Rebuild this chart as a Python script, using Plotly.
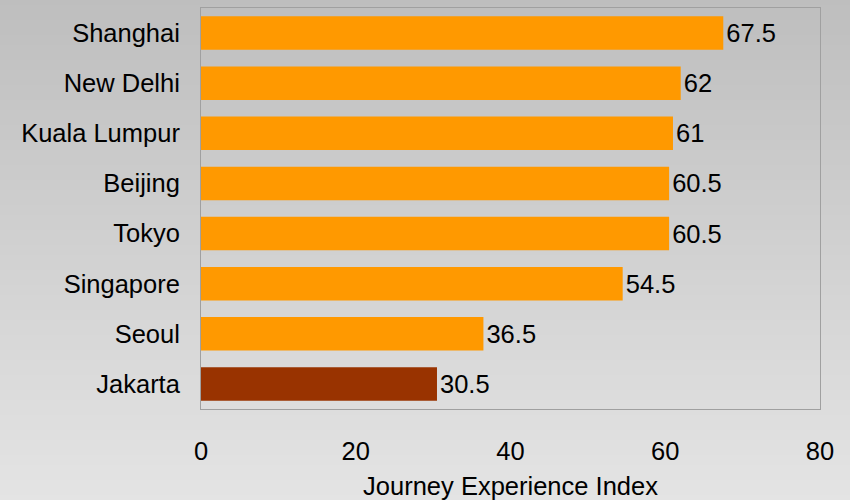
import plotly.graph_objects as go

# Journey Experience Index by city (bottom to top in the chart)
cities = ["Jakarta", "Seoul", "Singapore", "Tokyo", "Beijing",
          "Kuala Lumpur", "New Delhi", "Shanghai"]
scores = [30.5, 36.5, 54.5, 60.5, 60.5, 61, 62, 67.5]
bar_colors = ["#993300", "#FF9900", "#FF9900", "#FF9900", "#FF9900",
              "#FF9900", "#FF9900", "#FF9900"]
x_ticks = [0, 20, 40, 60, 80]

W, H = 850, 500
ML, MR, MT, MB = 201, 30, 8, 91
FONT = "Liberation Sans, Arial, sans-serif"
FS = 25.5

fig = go.Figure(go.Bar(
    x=scores,
    y=cities,
    orientation="h",
    marker=dict(color=bar_colors, line=dict(width=0)),
    text=[f"{v:g}" for v in scores],
    textposition="outside",
    cliponaxis=False,
    textfont=dict(size=FS, color="#000000", family=FONT),
    width=0.67,
))

# vertical grey gradient behind the whole figure, drawn as thin strips
plot_h = H - MT - MB
plot_w = W - ML - MR
steps = 100
top_rgb = (190, 190, 190)
bot_rgb = (228, 228, 228)
shapes = []
for i in range(steps):
    t = (i + 0.5) / steps
    c = tuple(round(a + (b - a) * t) for a, b in zip(top_rgb, bot_rgb))
    py0 = H * i / steps
    py1 = H * (i + 1) / steps + 0.6
    shapes.append(dict(
        type="rect", xref="paper", yref="paper", layer="below",
        x0=-ML / plot_w, x1=1 + MR / plot_w,
        y0=(H - MB - py1) / plot_h, y1=(H - MB - py0) / plot_h,
        fillcolor=f"rgb{c}", line=dict(width=0),
    ))

fig.update_layout(
    width=W, height=H,
    margin=dict(l=ML, r=MR, t=MT, b=MB, autoexpand=False),
    paper_bgcolor="#d0d0d0",
    plot_bgcolor="rgba(0,0,0,0)",
    font=dict(family=FONT, size=FS, color="#000000"),
    shapes=shapes,
    showlegend=False,
    xaxis=dict(
        range=[0, 80],
        tickvals=x_ticks,
        showgrid=False,
        zeroline=False,
        automargin=False,
        ticks="outside", ticklen=19, tickcolor="rgba(0,0,0,0)",
        showline=True, linecolor="#a0a0a0", linewidth=1, mirror=True,
        tickfont=dict(size=FS),
        title=dict(text="Journey Experience Index", font=dict(size=FS), standoff=14),
    ),
    yaxis=dict(
        showgrid=False,
        zeroline=False,
        automargin=False,
        ticks="outside", ticklen=15, tickcolor="rgba(0,0,0,0)",
        showline=True, linecolor="#a0a0a0", linewidth=1, mirror=True,
        tickfont=dict(size=FS),
        categoryorder="array", categoryarray=cities,
    ),
    bargap=0.33,
)

fig.write_html("out.html")
